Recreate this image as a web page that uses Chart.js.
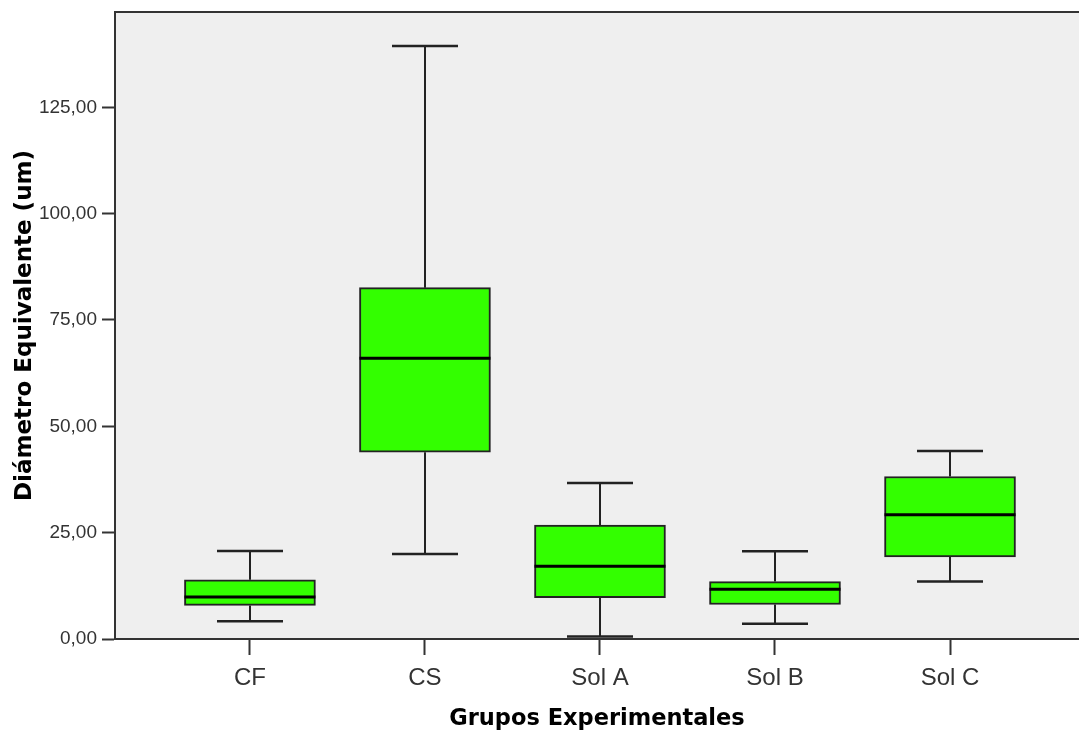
<!DOCTYPE html>
<html>
<head>
<meta charset="utf-8">
<script src="https://cdn.jsdelivr.net/npm/chart.js@4"></script>
<style>
  html, body { margin: 0; padding: 0; background: #fff; }
  canvas { display: block; }
</style>
</head>
<body>
<canvas id="myChart" width="1079" height="733"></canvas>
<script>
// boxplot values
const groups = ['CF', 'CS', 'Sol A', 'Sol B', 'Sol C'];
const whiskerLow = [4.2, 20.0, 0.6, 3.6, 13.5];
const q1 = [7.9, 43.9, 9.7, 8.1, 19.3];
const medians = [9.9, 66.0, 17.1, 11.7, 29.2];
const q3 = [13.9, 82.6, 26.8, 13.5, 38.2];
const whiskerHigh = [20.7, 139.4, 36.7, 20.6, 44.2];
const yTicks = [0, 25, 50, 75, 100, 125];

const boxFill = '#33ff00';
const lineColor = '#222222';
const plotBg = '#efefef';
const capWidth = 66;
const boxWidth = 131;

const boxLines = {
  id: 'boxLines',
  beforeDraw(chart) {
    const { ctx, chartArea } = chart;
    ctx.save();
    ctx.fillStyle = plotBg;
    ctx.fillRect(chartArea.left, chartArea.top, chartArea.right - chartArea.left, chartArea.bottom - chartArea.top);
    ctx.restore();
  },
  beforeDatasetsDraw(chart) {
    const { ctx } = chart;
    const xs = chart.scales.x;
    const ys = chart.scales.y;
    ctx.save();
    ctx.strokeStyle = lineColor;
    for (let i = 0; i < groups.length; i++) {
      const x = Math.round(xs.getPixelForValue(i + 1));
      const yLow = ys.getPixelForValue(whiskerLow[i]);
      const yHigh = ys.getPixelForValue(whiskerHigh[i]);
      const yQ1 = ys.getPixelForValue(q1[i]);
      const yQ3 = ys.getPixelForValue(q3[i]);
      // stems
      ctx.lineWidth = 2;
      ctx.beginPath();
      ctx.moveTo(x, yHigh);
      ctx.lineTo(x, yQ3);
      ctx.moveTo(x, yQ1);
      ctx.lineTo(x, yLow);
      ctx.stroke();
      // caps
      ctx.lineWidth = 2.5;
      ctx.beginPath();
      ctx.moveTo(x - capWidth / 2, yHigh);
      ctx.lineTo(x + capWidth / 2, yHigh);
      ctx.moveTo(x - capWidth / 2, yLow);
      ctx.lineTo(x + capWidth / 2, yLow);
      ctx.stroke();
    }
    ctx.restore();
  },
  afterDatasetsDraw(chart) {
    const { ctx, chartArea } = chart;
    const xs = chart.scales.x;
    const ys = chart.scales.y;
    ctx.save();
    // medians
    ctx.strokeStyle = '#000';
    ctx.lineWidth = 3;
    for (let i = 0; i < groups.length; i++) {
      const x = xs.getPixelForValue(i + 1);
      const y = ys.getPixelForValue(medians[i]);
      ctx.beginPath();
      ctx.moveTo(x - boxWidth / 2, y);
      ctx.lineTo(x + boxWidth / 2, y);
      ctx.stroke();
    }
    // top frame line
    ctx.strokeStyle = '#333';
    ctx.lineWidth = 2;
    ctx.beginPath();
    ctx.moveTo(chartArea.left, chartArea.top);
    ctx.lineTo(chartArea.right, chartArea.top);
    ctx.stroke();
    ctx.restore();
  }
};

const ctx = document.getElementById('myChart').getContext('2d');
const chart = new Chart(ctx, {
  type: 'bar',
  data: {
    datasets: [{
      data: groups.map((g, i) => ({ x: i + 1, y: [q1[i], q3[i]] })),
      backgroundColor: boxFill,
      borderColor: lineColor,
      borderWidth: 2,
      borderSkipped: false,
      barThickness: boxWidth
    }]
  },
  options: {
    responsive: false,
    animation: false,
    layout: { padding: { top: 12, right: 0, left: 0, bottom: 0 } },
    plugins: {
      legend: { display: false },
      tooltip: { enabled: false }
    },
    scales: {
      x: {
        type: 'linear',
        min: 0.229,
        max: 5.737,
        offset: false,
        afterBuildTicks: (s) => { s.ticks = groups.map((g, i) => ({ value: i + 1 })); },
        afterFit: (s) => { s.height = 94; s.paddingLeft = 0; s.paddingRight = 0; },
        grid: { drawOnChartArea: false, offset: false, tickLength: 16, tickColor: '#333', tickWidth: 2 },
        border: { color: '#333', width: 2 },
        ticks: {
          autoSkip: false,
          maxRotation: 0,
          padding: 9,
          color: '#333',
          font: { family: 'Liberation Sans', size: 24 },
          callback: (v) => groups[Math.round(v) - 1]
        },
        title: {
          display: true,
          text: 'Grupos Experimentales',
          color: '#000',
          font: { family: 'DejaVu Sans', size: 22.5, weight: 'bold' },
          padding: { top: 0, bottom: 0 }
        }
      },
      y: {
        min: 0,
        max: 147.4,
        afterBuildTicks: (s) => { s.ticks = yTicks.map(v => ({ value: v })); },
        afterFit: (s) => { s.width = 115; s.paddingTop = 0; s.paddingBottom = 0; },
        grid: { drawOnChartArea: false, tickLength: 13, tickColor: '#333', tickWidth: 2 },
        border: { color: '#333', width: 2 },
        ticks: {
          padding: 5,
          color: '#333',
          font: { family: 'Liberation Sans', size: 19 },
          callback: (v) => v.toFixed(2).replace('.', ',')
        },
        title: {
          display: true,
          text: 'Diámetro Equivalente (um)',
          color: '#000',
          font: { family: 'DejaVu Sans', size: 23, weight: 'bold' },
          padding: { top: 11, bottom: 0 }
        }
      }
    }
  },
  plugins: [boxLines]
});
</script>
</body>
</html>
